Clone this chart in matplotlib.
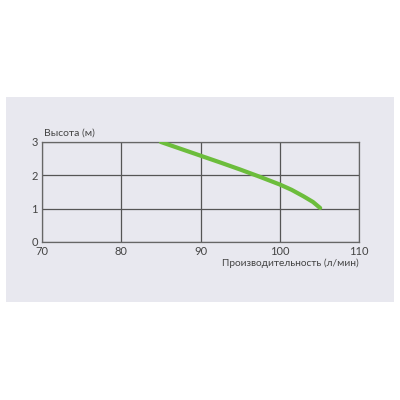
import matplotlib
matplotlib.use("Agg")
import matplotlib.pyplot as plt
from matplotlib.patches import Rectangle
import numpy as np

flow = [85.0, 87.5, 90.0, 92.5, 95.0, 97.5, 100.0, 101.5, 103.0, 104.2, 105.1]
head = [3.0, 2.795, 2.59, 2.385, 2.175, 1.955, 1.725, 1.565, 1.37, 1.2, 1.02]
xticks = [70, 80, 90, 100, 110]
yticks = [0, 1, 2, 3]

plt.rcParams['font.family'] = ['Lato', 'DejaVu Sans']
fig = plt.figure(figsize=(4, 4), dpi=100, facecolor='white')
fig.patches.append(Rectangle((6/400, 1-302/400), 388/400, 205/400,
                             transform=fig.transFigure, facecolor='#e8e8ef',
                             edgecolor='none', zorder=-10))
ax = fig.add_axes([42/400, 1-242/400, 317/400, 100/400])
ax.set_zorder(5)
ax.set_facecolor('none')
ax.set_xlim(70, 110)
ax.set_ylim(0, 3)
ax.set_xticks(xticks)
ax.set_yticks(yticks)
ax.grid(True, color='#555555', linewidth=0.9)
for s in ax.spines.values():
    s.set_color('#666666')
    s.set_linewidth(0.9)
ax.tick_params(length=0, labelsize=8, colors='#444444', pad=3)
ax.plot(flow, head, color='#6cbd3c', linewidth=3.0, solid_capstyle='round',
        solid_joinstyle='round', zorder=3)
ax.text(0.005, 1.04, 'Высота (м)', transform=ax.transAxes, fontsize=7.5,
        color='#444444', ha='left', va='bottom')
ax.text(1.0, -0.16, 'Производительность (л/мин)', transform=ax.transAxes, fontsize=7.3,
        color='#444444', ha='right', va='top')
fig.savefig('out.png', dpi=100, facecolor='white')
